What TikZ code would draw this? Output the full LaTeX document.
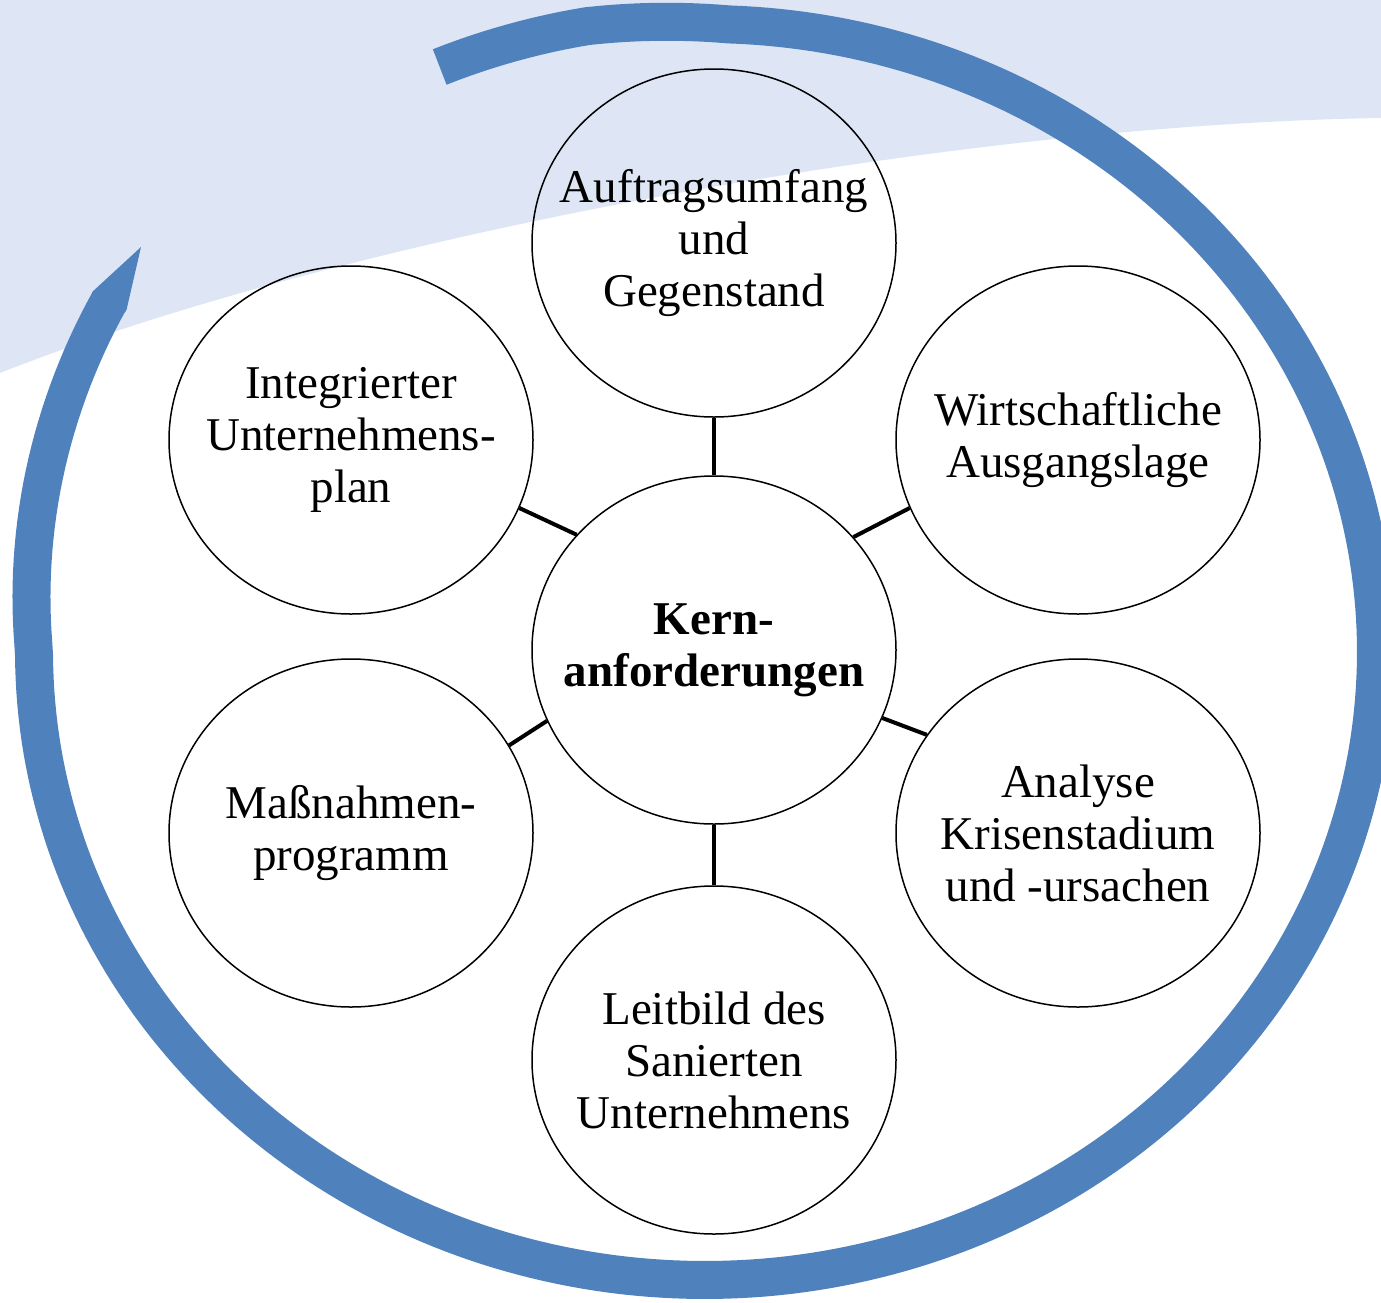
\documentclass[tikz,border=0pt]{standalone}
\usepackage{fontspec}
\setmainfont{Liberation Serif}
\usetikzlibrary{shapes.geometric}
\definecolor{bandblue}{RGB}{79,129,189}
\definecolor{bgblue}{RGB}{222,230,245}
\begin{document}
\begin{tikzpicture}[x=1pt,y=-1pt,
  declare function={ff(\t)=1+0.012*min(max((\t-88)/12,0),1)+0.00153*max(-180-\t,0);},
  bubble/.style={draw, line width=1.5pt, ellipse, minimum width=364pt, minimum height=348pt, inner sep=0pt},
  txt/.style={align=center, font=\fontsize{47}{52}\selectfont},
  boldtxt/.style={txt, font=\fontsize{47}{52}\selectfont\bfseries},
  link/.style={line width=4pt}]
\useasboundingbox (0,0) rectangle (1381,1302);
\clip (0,0) rectangle (1381,1302);
% background
\fill[bgblue] (0,0) -- (1381,0) -- (1381,118) .. controls (950,125) and (350,235) .. (0,373) -- cycle;
% spiral band
\draw[bandblue, line width=38pt] plot[domain=-212.3:113, samples=300, variable=\t]
  ({705+671*ff(\t)*cos(\t)}, {652-628*ff(\t)*sin(\t)});
\fill[bandblue] (91.4,294.4) -- (93.3,290.9) -- (141,247) -- (126.7,309.1) -- (124.8,312.6) -- cycle;
% nodes
\node[bubble, label={[boldtxt]center:{Kern-\\anforderungen}}] (c) at (714,650) {};
\node[bubble, label={[txt]center:{Auftragsumfang\\und\\Gegenstand}}] (t) at (714,243) {};
\node[bubble, label={[txt]center:{Wirtschaftliche\\Ausgangslage}}] (ur) at (1078,440) {};
\node[bubble, label={[txt]center:{Analyse\\Krisenstadium\\und -ursachen}}] (lr) at (1078,833) {};
\node[bubble, label={[txt]center:{Leitbild des\\Sanierten\\Unternehmens}}] (b) at (714,1060) {};
\node[bubble, label={[txt]center:{Maßnahmen-\\programm}}] (ll) at (351,833) {};
\node[bubble, label={[txt]center:{Integrierter\\Unternehmens-\\plan}}] (ul) at (351,440) {};
% connectors
\draw[link] (c.90) -- (t.-90);
\draw[link] (c.140.3) -- (ul.-22);
\draw[link] (c.39.5) -- (ur.202.2);
\draw[link] (c.-22.3) -- (lr.147);
\draw[link] (c.-157.3) -- (ll.29.2);
\draw[link] (c.-90) -- (b.90);
\end{tikzpicture}
\end{document}
